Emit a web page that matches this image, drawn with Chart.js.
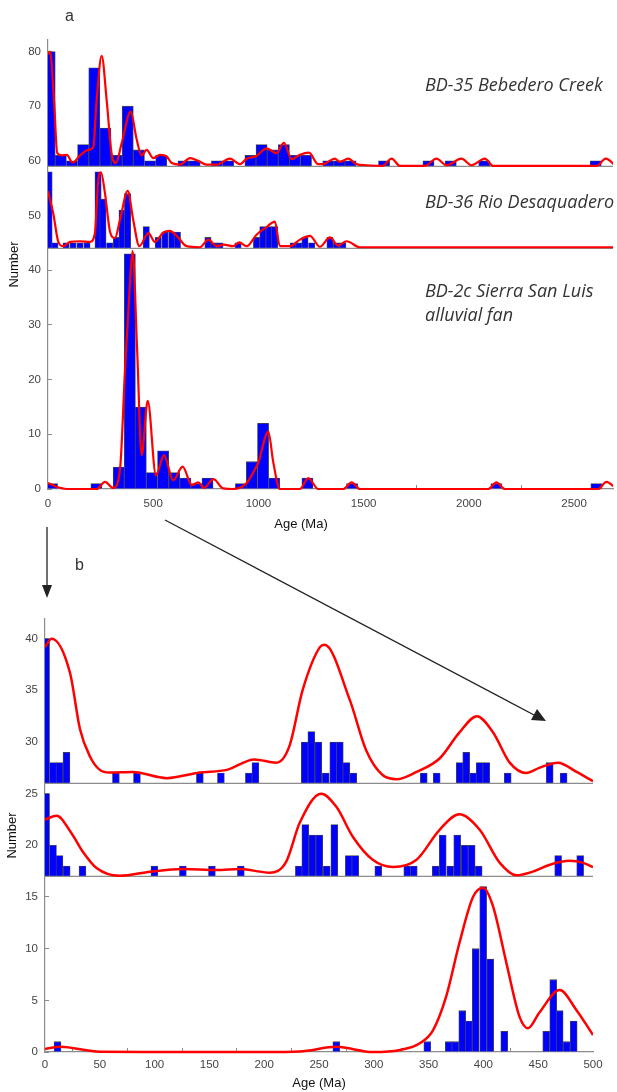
<!DOCTYPE html>
<html>
<head>
<meta charset="utf-8">
<script src="https://cdn.jsdelivr.net/npm/chart.js"></script>
<style>
  body { margin: 0; background: #fff; }
  #page { position: relative; width: 617px; height: 1092px; overflow: hidden; font-family: "Liberation Sans", Arial, sans-serif; }
  canvas { position: absolute; left: 0; }
  #chartA { top: 0; }
  #chartB { top: 545px; }
  .tag { position: absolute; font-size: 16px; color: #333; }
  .sample { position: absolute; font-family: "Open Sans", sans-serif; font-style: italic; font-size: 18px; color: #333; line-height: 24px; white-space: nowrap; }
  .xtitle { position: absolute; width: 120px; text-align: center; font-size: 13px; line-height: 16px; color: #111; }
  svg { position: absolute; left: 0; top: 0; }
</style>
</head>
<body>
<div id="page">
  <canvas id="chartA" width="617" height="545"></canvas>
  <canvas id="chartB" width="617" height="547"></canvas>
  <div class="tag" style="left:65px;top:7px;">a</div>
  <div class="tag" style="left:75px;top:556px;">b</div>
  <div class="xtitle" style="left:241px;top:516px;">Age (Ma)</div>
  <div class="sample" style="left:425px;top:72px;">BD-35 Bebedero Creek</div>
  <div class="sample" style="left:425px;top:189px;">BD-36 Rio Desaquadero</div>
  <div class="sample" style="left:425px;top:278px;">BD-2c Sierra San Luis<br>alluvial fan</div>
  <svg width="617" height="1092">
    <line x1="47" y1="527" x2="47" y2="590" stroke="#222" stroke-width="1.3"/>
    <polygon points="42,585 52,585 47,598" fill="#222"/>
    <line x1="165" y1="520" x2="536" y2="716" stroke="#222" stroke-width="1.3"/>
    <polygon points="546,721 531,720 537,709" fill="#222"/>
  </svg>
</div>
<script>
// ---- panel a : full age range, three samples stacked on one axis ----
const xMaxA = 2685, yMaxA = 82.1;
const xTicksA = [0, 500, 1000, 1500, 2000, 2500];
const yTicksA = [0, 10, 20, 30, 40, 50, 60, 70, 80];
const offA = [59, 44, 0];            // baseline of each stacked histogram
const binA = [52.9, 30, 52.9];       // bin width (Ma)

const a1Age = [8, 61, 114, 167, 220, 273, 326, 379, 432, 485, 538, 644, 697, 803, 856, 962, 1015, 1068, 1121, 1173, 1226, 1332, 1385, 1438, 1597, 1808, 1914, 2073, 2603];
const a1Count = [21, 2, 1, 4, 18, 7, 2, 11, 3, 1, 2, 1, 1, 1, 1, 2, 4, 3, 4, 2, 2, 1, 1, 1, 1, 1, 1, 1, 1];

const a2Age = [5, 33, 86, 119, 152, 185, 238, 261, 293, 325, 352, 378, 467, 524, 556, 588, 615, 760, 789, 817, 903, 991, 1021, 1050, 1077, 1165, 1192, 1221, 1253, 1340, 1371, 1401];
const a2Count = [14, 1, 1, 1, 1, 1, 14, 9, 1, 2, 7, 10, 4, 2, 3, 3, 3, 2, 1, 1, 1, 2, 4, 4, 4, 1, 1, 2, 1, 2, 1, 1];

const a3Age = [19, 230, 336, 389, 441, 494, 547, 600, 653, 705, 758, 917, 969, 1022, 1075, 1233, 1445, 2131, 2606];
const a3Count = [1, 1, 4, 43, 15, 3, 7, 3, 2, 1, 2, 1, 5, 12, 2, 2, 1, 1, 1];

// density curves, read on the stacked axis
const a1KdeAge = [0, 9.5, 28.5, 44, 65, 89, 117, 152, 192, 215, 231, 255, 279, 302, 323, 350, 393, 421, 445, 469, 500, 532, 564, 588, 627, 675, 714, 754, 801, 865, 912, 944, 991, 1039, 1086, 1121, 1158, 1197, 1240, 1284, 1316, 1363, 1387, 1427, 1466, 1514, 1590, 1633, 1672, 1791, 1846, 1894, 1965, 2013, 2076, 2115, 2607, 2651, 2694];
const a1KdeVal = [79.5, 80, 71.1, 61.4, 61, 61.1, 59.7, 61, 62, 62.5, 71, 79.2, 71, 61.4, 59.6, 63.2, 69, 64, 61, 62, 60.5, 61.1, 60.8, 59.6, 59.3, 60.5, 60, 59.3, 59.3, 60.4, 59.4, 60.4, 60.9, 62.3, 61.4, 63.3, 60.3, 61.1, 61.5, 59.4, 59.5, 60.4, 59.8, 60.4, 59.4, 59.2, 59.1, 60.4, 59.1, 59.1, 60.4, 59.2, 60.4, 59.2, 60.4, 59.1, 59.1, 60.4, 59.2];

const a2KdeAge = [0, 25, 49, 73, 105, 152, 200, 223, 239, 252, 271, 295, 318, 342, 379, 405, 434, 477, 508, 548, 580, 611, 659, 722, 762, 801, 833, 880, 909, 944, 991, 1039, 1078, 1102, 1150, 1197, 1245, 1292, 1340, 1379, 1419, 1482, 2700];
const a2KdeVal = [54.5, 50.4, 45.2, 44.4, 45.2, 45.3, 45.2, 46.8, 56.5, 57.9, 54, 47, 45.9, 49.2, 54.5, 49.2, 44.4, 46.8, 45.2, 46.9, 47.2, 46.3, 44.4, 44.2, 45.6, 44.4, 44.7, 44.4, 45.1, 44.4, 46.5, 47.9, 48.9, 44.4, 44.4, 45.6, 46.3, 44.3, 46.0, 44.5, 45.3, 44.2, 44.2];

const a3KdeAge = [0, 41, 89, 231, 271, 310, 342, 366, 390, 402, 424, 445, 474, 513, 551, 595, 640, 683, 714, 741, 786, 833, 880, 944, 975, 999, 1047, 1070, 1102, 1197, 1237, 1284, 1403, 1443, 1482, 2092, 2131, 2171, 2614, 2654, 2694];
const a3KdeVal = [1.1, 0.4, 0, 0, 1.3, 0.2, 3.5, 21.8, 38, 43.5, 25, 6.2, 16.1, 2.5, 6.2, 1.6, 4.1, 0.7, 1.2, 0.2, 1.8, 0.1, 0, 1.1, 3.0, 4.8, 10.5, 5, 0, 0, 2.0, 0, 0, 1.2, 0, 0, 1.2, 0, 0, 1.3, 0.3];

// ---- panel b : 0-500 Ma detail ----
const xMaxB = 500, yMaxB = 41.9;
const xTicksB = [0, 50, 100, 150, 200, 250, 300, 350, 400, 450, 500];
const yTicksB = [0, 5, 10, 15, 20, 25, 30, 35, 40];
const offB = [26, 17, 0];
const binB = 6.3;

const b1Age = [1, 7.3, 13.2, 19.6, 64.7, 83.9, 141.3, 160.5, 186, 192, 237, 243, 249.4, 256.2, 263, 269, 275, 281.3, 345.6, 357.4, 378.4, 384.3, 390.7, 396.6, 402.6, 422.2, 460.5, 473.2];
const b1Count = [14, 2, 2, 3, 1, 1, 1, 1, 1, 2, 4, 5, 4, 1, 4, 4, 2, 1, 1, 1, 2, 3, 1, 2, 2, 1, 2, 1];

const b2Age = [1, 7.3, 13.2, 19.8, 34.2, 99.8, 125.8, 152.3, 178.7, 231.6, 237.5, 243.9, 250.3, 257.1, 264, 277.2, 283.1, 304.1, 330.5, 336.5, 356.5, 362.9, 369.7, 376.1, 383, 389.3, 395.7, 468.2, 488.3];
const b2Count = [8, 3, 2, 1, 1, 1, 1, 1, 1, 1, 5, 4, 4, 1, 5, 2, 2, 1, 1, 1, 1, 4, 1, 4, 3, 3, 1, 2, 2];

const b3Age = [11.4, 265.8, 348.8, 368.4, 374.3, 380.7, 386.6, 393, 399.8, 406.2, 419, 457.3, 463.7, 469.6, 476, 482.4];
const b3Count = [1, 1, 1, 1, 1, 4, 3, 10, 16, 9, 2, 2, 7, 4, 1, 3];

const b1KdeAge = [0, 6, 22.8, 32, 41, 50, 59, 80, 111, 141, 166, 191, 211, 223, 235, 251, 255, 278, 293, 308, 321, 339, 360, 378, 394, 409, 424, 439, 451, 468, 485, 500];
const b1KdeVal = [39.2, 40.0, 36.7, 31.2, 28.6, 27.3, 27.05, 27.1, 26.5, 27.05, 27.3, 28.3, 28.0, 29.6, 35, 39.2, 39.4, 34.1, 29.2, 26.8, 26.4, 27.1, 28.4, 30.9, 32.5, 30.9, 28, 27.0, 27.5, 28.0, 27.1, 26.2];

const b2KdeAge = [0, 10.6, 24, 35, 47, 68, 96, 126, 156.5, 178, 205, 220, 232.5, 252, 266, 281, 299, 317.6, 339, 360, 378, 396.6, 415, 430, 445, 460, 479, 491, 500];
const b2KdeVal = [22.5, 22.85, 21.2, 19.3, 17.8, 17.05, 17.45, 17.7, 17.6, 17.7, 17.35, 18.4, 22.2, 25.0, 23.7, 20.8, 18.6, 17.9, 18.6, 21.5, 23.0, 21.5, 18.3, 17.1, 17.45, 18.1, 18.5, 18.3, 17.9];

const b3KdeAge = [0, 13.7, 50, 100, 200, 232.5, 266, 299, 324, 342, 354, 366, 378, 390.5, 399.7, 408.8, 421, 433, 440.7, 451, 469.6, 484.8, 500];
const b3KdeVal = [0.3, 0.5, 0.02, 0, 0, 0.05, 0.5, 0, 0.2, 0.85, 2.1, 5.35, 10.5, 15.0, 15.9, 14.1, 8.6, 3.4, 2.3, 3.8, 6.0, 4.07, 1.65];

// ---- helpers ----
const blue = '#0000ff', red = '#ff0000', axisGrey = '#8c8c8c';
const tickFont = { family: "'Liberation Sans', Arial, sans-serif", size: 11.5 };
const titleFont = { family: "'Liberation Sans', Arial, sans-serif", size: 13 };

function barSet(ages, counts, base, thickness) {
  return {
    type: 'bar',
    data: ages.map((a, i) => ({ x: a, y: [base, base + counts[i]] })),
    backgroundColor: blue,
    borderColor: '#4a4a4a',
    borderWidth: 0.8,
    borderSkipped: 'start',
    barThickness: thickness,
    grouped: false,
    order: 2,
    clip: 0
  };
}
function curveSet(ages, vals, width) {
  return {
    type: 'line',
    data: ages.map((a, i) => ({ x: a, y: vals[i] })),
    borderColor: red,
    borderWidth: width,
    pointRadius: 0,
    cubicInterpolationMode: 'monotone',
    fill: false,
    order: 0,
    clip: { left: 0, right: 0, top: 4, bottom: 4 }
  };
}
function baseSet(y, xMax) {
  return {
    type: 'line',
    data: [{ x: 0, y: y }, { x: xMax, y: y }],
    borderColor: axisGrey,
    borderWidth: 1.2,
    pointRadius: 0,
    order: 1
  };
}
// small inward tick marks, as in the original plot
const inTicks = { display: true, drawOnChartArea: false, drawTicks: true, tickLength: -4, color: axisGrey, lineWidth: 1 };

function makeChart(id, cfg) {
  return new Chart(document.getElementById(id), {
    type: 'bar',
    data: { datasets: cfg.datasets },
    options: {
      responsive: false,
      devicePixelRatio: 1,
      animation: false,
      events: [],
      layout: { padding: cfg.padding },
      plugins: { legend: { display: false }, tooltip: { enabled: false } },
      scales: {
        x: {
          type: 'linear', min: 0, max: cfg.xMax, offset: false,
          afterFit: s => { s.height = cfg.xH; },
          afterBuildTicks: s => { s.ticks = cfg.xTicks.map(v => ({ value: v })); },
          grid: inTicks,
          border: { display: true, color: axisGrey, width: 1.2 },
          ticks: { color: '#444', font: tickFont, padding: cfg.xPad + 4, maxRotation: 0, autoSkip: false, callback: v => String(v) },
          title: { display: cfg.xTitle, text: 'Age (Ma)', color: '#111', font: titleFont, padding: { top: 0, bottom: cfg.xTitlePad } }
        },
        y: {
          type: 'linear', min: 0, max: cfg.yMax,
          afterFit: s => { s.width = cfg.yW; },
          afterBuildTicks: s => { s.ticks = cfg.yTicks.map(v => ({ value: v })); },
          grid: inTicks,
          border: { display: true, color: axisGrey, width: 1.2 },
          ticks: { color: '#444', font: tickFont, padding: 11, autoSkip: false, callback: v => String(v) },
          title: { display: true, text: 'Number', color: '#111', font: titleFont, padding: { top: cfg.yTitlePad, bottom: 0 } }
        }
      }
    }
  });
}

const pxA = 565 / xMaxA, pxB = 548 / xMaxB;

makeChart('chartA', {
  xMax: xMaxA, yMax: yMaxA, xTicks: xTicksA, yTicks: yTicksA, xH: 56, yW: 48, xPad: 8, xTitle: false, xTitlePad: 13, yTitlePad: 7,
  padding: { left: 0, right: 4, top: 40, bottom: 0 },
  datasets: [
    curveSet(a1KdeAge, a1KdeVal, 2.2),
    curveSet(a2KdeAge, a2KdeVal, 2.2),
    curveSet(a3KdeAge, a3KdeVal, 2.2),
    baseSet(offA[0], xMaxA),
    baseSet(offA[1], xMaxA),
    barSet(a1Age, a1Count, offA[0], binA[0] * pxA),
    barSet(a2Age, a2Count, offA[1], binA[1] * pxA),
    barSet(a3Age, a3Count, offA[2], binA[2] * pxA)
  ]
});

makeChart('chartB', {
  xMax: xMaxB, yMax: yMaxB, xTicks: xTicksB, yTicks: yTicksB, xH: 40, yW: 45, xPad: 6, xTitle: true, xTitlePad: 1, yTitlePad: 5,
  padding: { left: 0, right: 24, top: 74, bottom: 0 },
  datasets: [
    curveSet(b1KdeAge, b1KdeVal, 2.5),
    curveSet(b2KdeAge, b2KdeVal, 2.5),
    curveSet(b3KdeAge, b3KdeVal, 2.5),
    baseSet(offB[0], xMaxB),
    baseSet(offB[1], xMaxB),
    barSet(b1Age, b1Count, offB[0], binB * pxB),
    barSet(b2Age, b2Count, offB[1], binB * pxB),
    barSet(b3Age, b3Count, offB[2], binB * pxB)
  ]
});
</script>
</body>
</html>
